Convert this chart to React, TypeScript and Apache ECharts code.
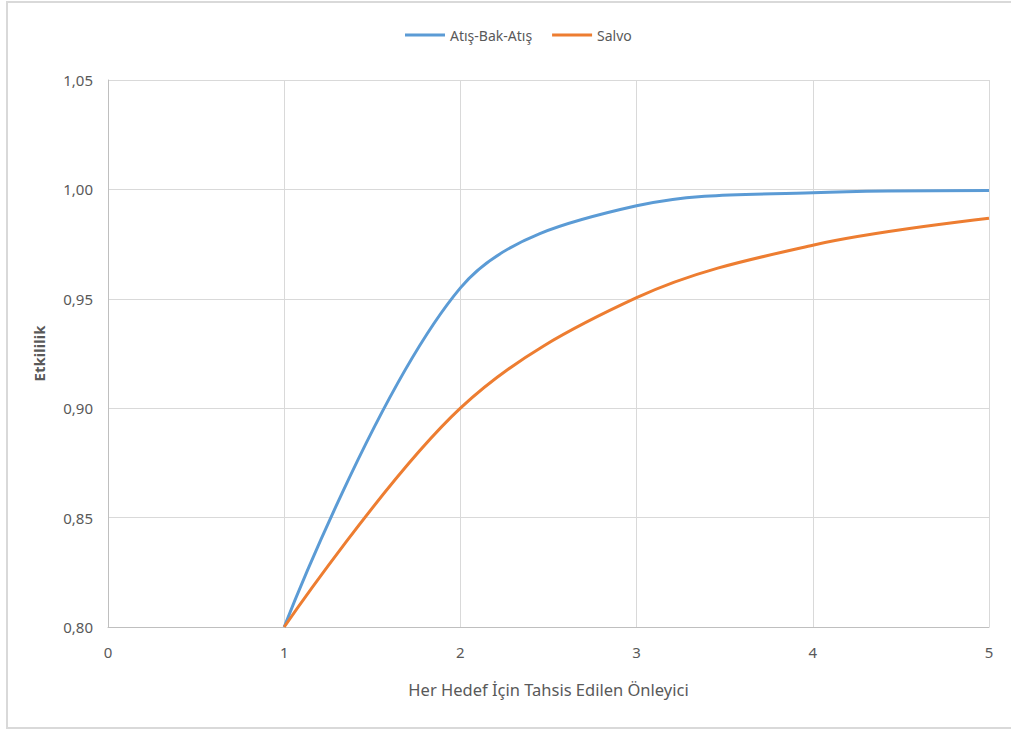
import React, { useEffect, useRef } from "react";
import * as echarts from "echarts";

// Number of interceptors assigned per target
const xValues = [1, 2, 3, 4, 5];
// Effectiveness: shoot-look-shoot
const atisBakAtis = [0.8, 0.955, 0.9925, 0.9985, 0.9995];
// Effectiveness: salvo
const salvo = [0.8, 0.9, 0.9505, 0.9745, 0.9868];

const seriesNames = ["Atış-Bak-Atış", "Salvo"];
const colors = ["#5b9bd5", "#ed7d31"];

const FONT = "'Noto Sans', sans-serif";
const fmt = (v: number) => v.toFixed(2).replace(".", ",");

export default function App() {
  const ref = useRef<HTMLDivElement>(null);

  useEffect(() => {
    if (!ref.current) return;
    const chart = echarts.init(ref.current, null, { renderer: "svg" });
    const toPairs = (ys: number[]) => xValues.map((x, i) => [x, ys[i]]);
    chart.setOption({
      animation: false,
      backgroundColor: "#ffffff",
      textStyle: { fontFamily: FONT },
      graphic: [
        {
          type: "rect",
          shape: { x: 7, y: 2, width: 1020, height: 726 },
          style: { fill: "none", stroke: "#d9d9d9", lineWidth: 2 },
          silent: true,
        },
      ],
      legend: {
        top: 23,
        left: 400,
        itemWidth: 40,
        itemHeight: 3,
        itemGap: 20,
        icon: "rect",
        textStyle: { fontFamily: FONT, fontSize: 14, color: "#595959" },
        data: seriesNames,
      },
      grid: { left: 108, right: 22, top: 80, bottom: 102 },
      xAxis: {
        type: "value",
        min: 0,
        max: 5,
        interval: 1,
        name: "Her Hedef İçin Tahsis Edilen Önleyici",
        nameLocation: "middle",
        nameGap: 54,
        nameTextStyle: { fontFamily: FONT, fontSize: 16.5, color: "#595959" },
        axisLine: { show: true, lineStyle: { color: "#bfbfbf", width: 1 } },
        axisTick: { show: false },
        axisLabel: { fontFamily: FONT, fontSize: 15, color: "#595959", margin: 17 },
        splitLine: { show: true, lineStyle: { color: "#d9d9d9", width: 1 } },
      },
      yAxis: {
        type: "value",
        min: 0.8,
        max: 1.05,
        interval: 0.05,
        name: "Etkililik",
        nameLocation: "middle",
        nameGap: 62,
        nameTextStyle: { fontFamily: FONT, fontSize: 15, fontWeight: "bold", color: "#595959" },
        axisLine: { show: true, lineStyle: { color: "#bfbfbf", width: 1 } },
        axisTick: { show: false },
        axisLabel: { fontFamily: FONT, fontSize: 15, color: "#595959", margin: 15, formatter: fmt },
        splitLine: { show: true, lineStyle: { color: "#d9d9d9", width: 1 } },
      },
      series: [
        {
          name: seriesNames[0],
          type: "line",
          data: toPairs(atisBakAtis),
          smooth: 0.35,
          showSymbol: false,
          lineStyle: { color: colors[0], width: 3 },
          itemStyle: { color: colors[0] },
        },
        {
          name: seriesNames[1],
          type: "line",
          data: toPairs(salvo),
          smooth: 0.35,
          showSymbol: false,
          lineStyle: { color: colors[1], width: 3 },
          itemStyle: { color: colors[1] },
        },
      ],
    });
    return () => chart.dispose();
  }, []);

  return (
    <div
      ref={ref}
      style={{ position: "absolute", left: 0, top: 0, width: 1011, height: 729 }}
    />
  );
}
